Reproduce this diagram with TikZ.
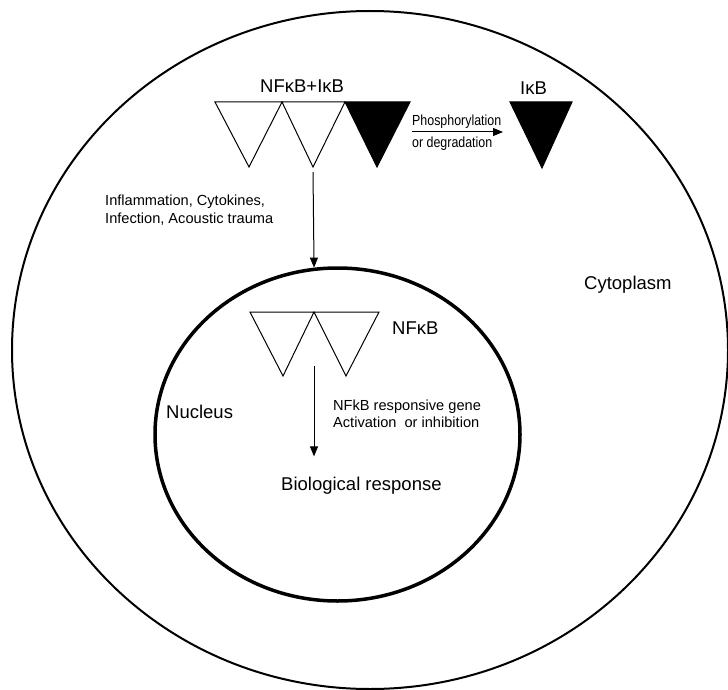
\documentclass[tikz,border=0pt]{standalone}
\usepackage{graphicx}
\usepackage{fontspec}
\setmainfont{Liberation Sans}
\usetikzlibrary{arrows.meta,shapes.geometric}
\begin{document}
\begin{tikzpicture}[x=1pt,y=-1pt,
  tri/.style={draw,line width=1pt,fill=white,line join=miter},
  blacktri/.style={draw,line width=1pt,fill=black,line join=miter},
  arr/.style={-{Triangle[length=10pt,width=8pt]},line width=1pt},
  big/.style={font=\fontsize{18.5}{22}\selectfont,inner sep=0pt,anchor=base west},
  small/.style={font=\fontsize{14.6}{17}\selectfont,inner sep=0pt,anchor=base west}]
\useasboundingbox[fill=white] (0,0) rectangle (728,690);
% cell
\draw[line width=2pt] (370,350) ellipse [x radius=358, y radius=339];
\node[ellipse,draw,line width=3.5pt,minimum width=365pt,minimum height=333pt,inner sep=0pt] (nucleus) at (337.5,434.5) {};
% NFkB+IkB complex
\coordinate (t2apex) at (313,167);
\draw[tri] (215,102) -- (282,102) -- (249,167) -- cycle;
\draw[tri] (282,102) -- (345,102) -- (t2apex) -- cycle;
\draw[blacktri] (345,102) -- (410,102) -- (377,167) -- cycle;
\node[big] (complex) at (260,92.5) {NFκB+IκB};
% free IkB
\draw[blacktri] (510,102) -- (572,102) -- (542,168) -- cycle;
\node[big] (ikb) at (520,94.5) {IκB};
% phosphorylation arrow
\coordinate (phosA) at (412,132);
\coordinate (phosB) at (503,132);
\draw[arr] (phosA) -- (phosB);
\node[small] (phos1) at (412,125) {\scalebox{0.85}[1]{Phosphorylation}};
\node[small] (phos2) at (412,147) {\scalebox{0.85}[1]{or degradation}};
% stimuli
\node[small] (inf1) at (105,205.3) {Inflammation, Cytokines,};
\node[small] (inf2) at (105,223.3) {Infection, Acoustic trauma};
\draw[arr] ([yshift=-5pt]t2apex) -- (nucleus.98.4);
% labels
\node[big] (cyto) at (584,289.6) {Cytoplasm};
\node[big] (nuc) at (166,418) {Nucleus};
% NFkB in nucleus
\draw[tri] (250,312) -- (314,312) -- (283,376) -- cycle;
\draw[tri] (314,312) -- (379,312) -- (346,376) -- cycle;
\node[big] (nfkb) at (392,334) {NFκB};
\coordinate (geneStart) at (314,366);
\node[small] (gene1) at (333,410) {NFkB responsive gene};
\node[small] (gene2) at (333,427) {Activation\ \ or inhibition};
\node[big] (bio) at (281,490) {Biological response};
\draw[arr,shorten >=20pt] (geneStart) -- (bio.north -| geneStart);
\end{tikzpicture}
\end{document}
